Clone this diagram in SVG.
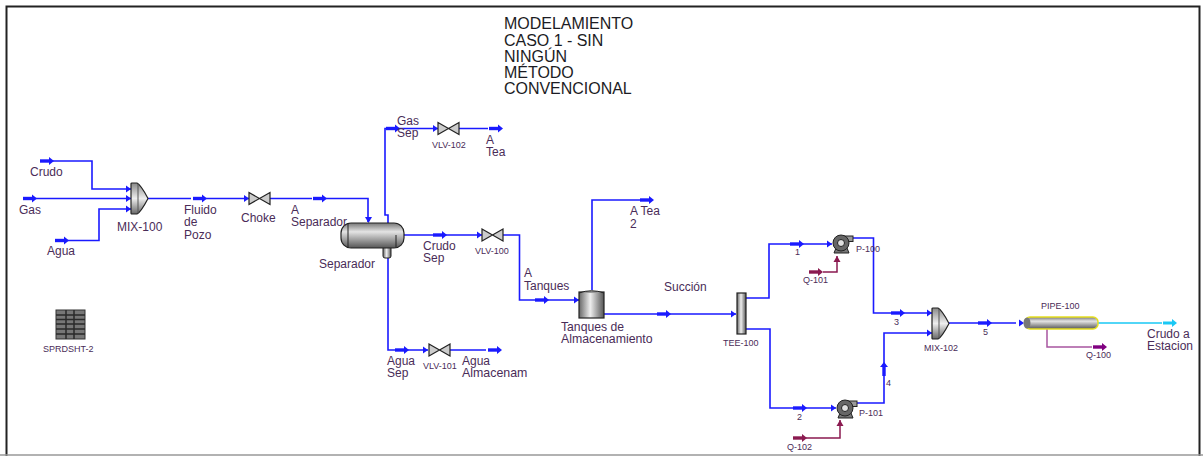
<svg xmlns="http://www.w3.org/2000/svg" width="1203" height="456" viewBox="0 0 1203 456">
<style>
text{font-family:"Liberation Sans",Arial,sans-serif;fill:#4a2c58;font-size:12px}
.s{font-size:9px}
.t{font-size:16px;fill:#1c1c24;letter-spacing:-.03px}
.c{fill:none;stroke:#1a1aff;stroke-width:1.6}
.q{fill:none;stroke:#8b1a50;stroke-width:1.5}
</style>
<defs>
<linearGradient id="h" x1="0" y1="0" x2="1" y2="0"><stop offset="0" stop-color="#666"/><stop offset=".45" stop-color="#eee"/><stop offset="1" stop-color="#555"/></linearGradient>
<linearGradient id="v" x1="0" y1="0" x2="0" y2="1"><stop offset="0" stop-color="#777"/><stop offset=".35" stop-color="#e4e4e4"/><stop offset="1" stop-color="#555"/></linearGradient>
<linearGradient id="m" x1="0" y1="0" x2="0" y2="1"><stop offset="0" stop-color="#888"/><stop offset=".5" stop-color="#eee"/><stop offset="1" stop-color="#666"/></linearGradient>
<g id="a"><path d="M0 0H10" stroke="#1a1aff" stroke-width="3.4" fill="none"/><path d="M9 -4L14 0L9 4Z" fill="#1a1aff"/></g>
<g id="aq"><path d="M0 0H10" stroke="#8b1a50" stroke-width="3.4" fill="none"/><path d="M9 -4L14 0L9 4Z" fill="#8b1a50"/></g>
<g id="ap"><path d="M0 0H10" stroke="#800080" stroke-width="3.4" fill="none"/><path d="M9 -4L14 0L9 4Z" fill="#800080"/></g>
<g id="i"><path d="M-5 -3.500L0 0L-5 3.500Z" fill="#1a1aff"/></g>
<g id="valve"><path d="M0 -6L21 6V-6L0 6Z" fill="#ccc" stroke="#222" stroke-width="1.200"/></g>
<g id="mix"><path d="M1 0H6Q10 2 17 15.500Q10 29 6 31H1Q0 31 0 30V1Q0 0 1 0Z" fill="url(#m)" stroke="#222" stroke-width="1.200"/><path d="M7 0.500V30.500" stroke="#555"/></g>
<g id="pump"><rect x="12" y="1" width="9" height="5.500" fill="#999" stroke="#222"/><path d="M2 18H17L15 13H4Z" fill="#777" stroke="#222"/><circle cx="9" cy="8" r="8" fill="#666" stroke="#222"/><circle cx="9" cy="8" r="3.500" fill="#e0e0e0" stroke="#222"/></g>
</defs>
<rect width="1203" height="456" fill="#fff"/>
<path d="M6.500 456V6.500H1199.500V456" fill="none" stroke="#222" stroke-width="2"/>
<path d="M0 455H1203" stroke="#999" stroke-width="1.500"/>
<g id="connectors">
<path class="c" d="M40 161H92V189H131M23 198.500H131M55 240.500H99V209H131M148 198.500H191M193 198.500H249M270 198.500H312M313 198.500H368V222"/>
<path class="c" d="M388 223V215H385V128.500H438M459 128.500H488M404 235H482M503 235H519.500V300H579M592 290V200H640M604 314H736M746 298H769V244H832M853 238H873.500V313H932M746 329H770V408H836M857 403H884V333H932M949 323H1016"/>
<path class="c" d="M388 258V350H428M449 350H486"/>
<path class="q" d="M823 272H837V256M806 438H840V420"/>
<path d="M1047 329V347H1092" fill="none" stroke="#a855a0" stroke-width="1.500"/>
<path d="M1098 323H1162" fill="none" stroke="#19c8f5" stroke-width="1.500"/>
<use href="#a" x="40" y="161"/><use href="#a" x="23" y="198.500"/><use href="#a" x="55" y="240.500"/><use href="#a" x="193" y="198.500"/><use href="#a" x="313" y="198.500"/><use href="#a" x="386" y="128.500"/><use href="#a" x="489" y="128.500"/><use href="#a" x="433" y="235"/><use href="#a" x="395" y="350"/><use href="#a" x="488" y="350"/><use href="#a" x="535" y="300"/><use href="#a" x="640" y="200"/><use href="#a" x="657" y="314"/><use href="#a" x="790" y="244"/><use href="#a" x="793" y="408"/><use href="#a" x="891" y="313"/><use href="#a" x="978" y="323"/>
<use href="#a" transform="translate(884 376) rotate(-90)"/>
<use href="#aq" x="809" y="272"/><use href="#aq" x="793" y="438"/><use href="#ap" x="1093" y="347"/>
<path d="M1163 323H1173" stroke="#19c8f5" stroke-width="3"/><path d="M1172 319L1177 323L1172 327Z" fill="#19c8f5"/>
<use href="#i" x="131" y="189"/><use href="#i" x="131" y="198.500"/><use href="#i" x="131" y="209"/><use href="#i" x="249" y="198.500"/><use href="#i" x="438" y="128.500"/><use href="#i" x="482" y="235"/><use href="#i" x="428" y="350"/><use href="#i" x="579" y="300"/><use href="#i" x="736" y="314"/><use href="#i" x="832" y="244"/><use href="#i" x="836" y="408"/><use href="#i" x="932" y="313"/><use href="#i" x="932" y="333"/><use href="#i" x="1024" y="323"/>
<path d="M365 217L368.500 223L372 217Z" fill="#1a1aff"/>
<path d="M833.500 262L837 256L840.500 262Z" fill="#8b1a50"/><path d="M836.500 426L840 420L843.500 426Z" fill="#8b1a50"/>
</g>
<g id="title"><text class="t" x="504" y="29">MODELAMIENTO</text><text class="t" x="504" y="46">CASO 1 - SIN</text><text class="t" x="504" y="62">NINGÚN</text><text class="t" x="504" y="78">MÉTODO</text><text class="t" x="504" y="94">CONVENCIONAL</text></g>
<g id="MIX-100"><use href="#mix" x="131" y="183"/><text x="117" y="231">MIX-100</text></g>
<g id="Choke"><use href="#valve" x="249" y="198.500"/><text x="241" y="222">Choke</text></g>
<g id="Separador"><rect x="383" y="246" width="8" height="12" rx="2" fill="url(#h)" stroke="#222"/><rect x="341" y="223" width="63" height="25" rx="10" fill="url(#v)" stroke="#222" stroke-width="1.200"/><path d="M348 223V248M396 235V248" stroke="#222"/><text x="319" y="268">Separador</text></g>
<g id="VLV-102"><use href="#valve" x="438" y="128.500"/><text class="s" x="432" y="148">VLV-102</text></g>
<g id="VLV-100"><use href="#valve" x="482" y="235"/><text class="s" x="475" y="254">VLV-100</text></g>
<g id="VLV-101"><use href="#valve" x="429" y="350"/><text class="s" x="423" y="369">VLV-101</text></g>
<g id="Tanques"><rect x="579" y="292" width="25" height="26" fill="url(#h)" stroke="#222" stroke-width="1.200"/><path d="M579 293Q591.500 288.500 604 293" fill="#999" stroke="#222"/><text x="561" y="331" style="font-size:12.200px">Tanques de</text><text x="561" y="343" style="font-size:12.300px">Almacenamiento</text></g>
<g id="TEE-100"><rect x="737" y="293" width="9" height="41" fill="url(#h)" stroke="#222" stroke-width="1.200"/><text class="s" x="723" y="346">TEE-100</text></g>
<g id="P-100"><use href="#pump" x="832" y="235"/><text class="s" x="856" y="252">P-100</text></g>
<g id="P-101"><use href="#pump" x="836" y="400"/><text class="s" x="859" y="416">P-101</text></g>
<g id="MIX-102"><use href="#mix" x="932" y="308"/><text class="s" x="924" y="351">MIX-102</text></g>
<g id="PIPE-100"><rect x="1025" y="317" width="73" height="12" rx="5" fill="url(#v)" stroke="#e6e020" stroke-width="1.500"/><ellipse cx="1027" cy="323" rx="3.500" ry="5.500" fill="#777"/><text class="s" x="1041" y="309">PIPE-100</text></g>
<g id="SPRDSHT-2"><rect x="56" y="310" width="29" height="29" fill="#777" stroke="#333"/><path d="M56 315H85M56 319.500H85M56 324H85M56 329H85M56 334H85M66 310V339M74 310V339" stroke="#2a2a2a" stroke-width="1.500"/><text class="s" x="43" y="352">SPRDSHT-2</text></g>
<g id="labels">
<text x="30" y="176">Crudo</text><text x="19" y="214">Gas</text><text x="47" y="255">Agua</text>
<text x="184" y="214">Fluido</text><text x="184" y="226">de</text><text x="184" y="239">Pozo</text>
<text x="291" y="214">A</text><text x="291" y="226">Separador</text>
<text x="397" y="125">Gas</text><text x="397" y="137">Sep</text>
<text x="486" y="144">A</text><text x="486" y="156">Tea</text>
<text x="423" y="250">Crudo</text><text x="423" y="262">Sep</text>
<text x="524" y="277">A</text><text x="524" y="290">Tanques</text>
<text x="630" y="215">A Tea</text><text x="630" y="228">2</text>
<text x="664" y="291">Succión</text>
<text x="387" y="365">Agua</text><text x="387" y="377">Sep</text>
<text x="462" y="365">Agua</text><text x="462" y="377" style="font-size:12.400px">Almacenam</text>
<text class="s" x="795" y="255">1</text><text class="s" x="797" y="420">2</text><text class="s" x="894" y="325">3</text><text class="s" x="886" y="386">4</text><text class="s" x="983" y="335">5</text>
<text class="s" x="803" y="283">Q-101</text><text class="s" x="787" y="450">Q-102</text><text class="s" x="1086" y="358">Q-100</text>
<text x="1147" y="338">Crudo a</text><text x="1147" y="350">Estacion</text>
</g>
</svg>
